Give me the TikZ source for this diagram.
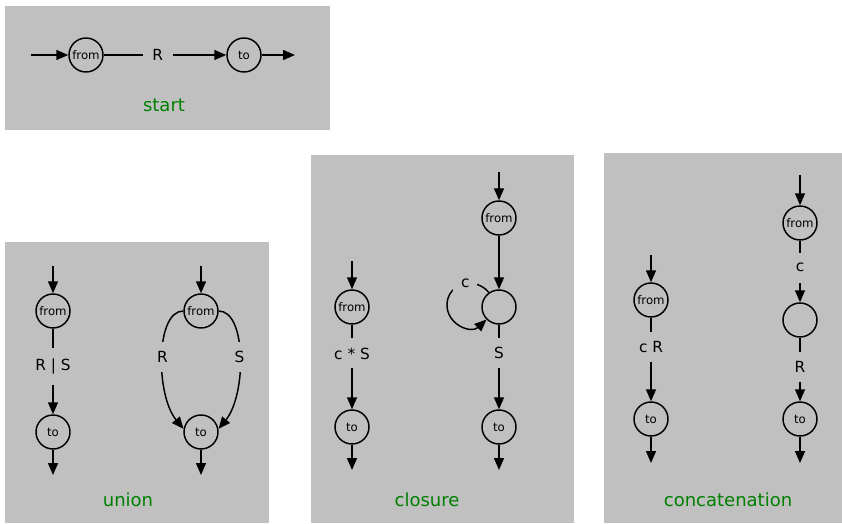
\documentclass[tikz,border=0pt]{standalone}
\usepackage{fontspec}
\setmainfont{DejaVu Sans}
\usetikzlibrary{arrows.meta}
\definecolor{panel}{RGB}{192,192,192}
\definecolor{ttlgreen}{RGB}{0,128,0}
\begin{document}
\begin{tikzpicture}[x=0.75pt,y=-0.75pt,
  state/.style={circle,draw,line width=1.1pt,minimum size=25.5pt,inner sep=0pt,font=\fontsize{8.8}{10}\selectfont},
  arr/.style={line width=1.1pt,-{Triangle[length=9pt,width=7.5pt]}},
  lbl/.style={fill=panel,inner sep=0pt,minimum width=22.5pt,minimum height=22.5pt,font=\fontsize{11.5}{13}\selectfont},
  ttl/.style={text=ttlgreen,font=\fontsize{13.5}{16}\selectfont}]
\useasboundingbox (0,0) rectangle (842,524);
% panels
\fill[panel] (5,6) rectangle (330,130);
\fill[panel] (5,242) rectangle (269,523);
\fill[panel] (311,155) rectangle (574,523);
\fill[panel] (604,153) rectangle (842,523);
% start
\coordinate (s0) at (31,55);
\node[state] (sf) at (86,55) {from};
\node[state] (st) at (244,55) {to};
\coordinate (s1) at (295,55);
\draw[arr] (s0) -- (sf);
\draw[arr] (sf) -- node[lbl,pos=0.44] (sR) {R} (st);
\draw[arr] (st) -- (s1);
\node[ttl] (tstart) at (164,105) {start};
% union left
\coordinate (u0) at (53,266);
\node[state] (uf) at (53,311) {from};
\node[state] (ut) at (53,432) {to};
\coordinate (u1) at (53,475);
\draw[arr] (u0) -- (uf);
\draw[arr] (uf) -- node[lbl,pos=0.44,minimum height=28pt] (uRS) {R | S} (ut);
\draw[arr] (ut) -- (u1);
% union right
\coordinate (v0) at (201,266);
\node[state] (vf) at (201,311) {from};
\node[state] (vt) at (201,432) {to};
\coordinate (v1) at (201,475);
\draw[arr] (v0) -- (vf);
\draw[arr] (vf.west) .. controls +(-28,0) and +(-28,-34) .. node[lbl,pos=0.5] (vR) {R} (vt.170);
\draw[arr] (vf.east) .. controls +(28,0) and +(28,-34) .. node[lbl,pos=0.5] (vS) {S} (vt.10);
\draw[arr] (vt) -- (v1);
\node[ttl] (tunion) at (128,500) {union};
% closure left
\coordinate (c0) at (352,261);
\node[state] (cf) at (352,307) {from};
\node[state] (ct) at (352,427) {to};
\coordinate (c1) at (352,470);
\draw[arr] (c0) -- (cf);
\draw[arr] (cf) -- node[lbl,pos=0.34] (ccS) {c * S} (ct);
\draw[arr] (ct) -- (c1);
% closure right
\coordinate (d0) at (499,172);
\node[state] (df) at (499,218) {from};
\node[state] (dm) at (499,307) {};
\node[state] (dt) at (499,427) {to};
\coordinate (d1) at (499,470);
\coordinate (dl) at (447,305);
\draw[arr] (d0) -- (df);
\draw[arr] (df) -- (dm);
\draw[arr] (dm.125) .. controls +(-14,-17) and +(0,-21.5) .. node[lbl,pos=0.45,minimum width=18pt,minimum height=16pt] (dc) {c} (dl)
  .. controls +(0,19.6) and +(-15.5,14.5) .. (dm.225);
\draw[arr] (dm) -- node[lbl,pos=0.33] (dS) {S} (dt);
\draw[arr] (dt) -- (d1);
\node[ttl] (tclosure) at (427,500) {closure};
% concatenation left
\coordinate (e0) at (651,255);
\node[state] (ef) at (651,300) {from};
\node[state] (et) at (651,419) {to};
\coordinate (e1) at (651,463);
\draw[arr] (e0) -- (ef);
\draw[arr] (ef) -- node[lbl,pos=0.35] (ecR) {c R} (et);
\draw[arr] (et) -- (e1);
% concatenation right
\coordinate (g0) at (800,175);
\node[state] (gf) at (800,223) {from};
\node[state] (gm) at (800,320) {};
\node[state] (gt) at (800,419) {to};
\coordinate (g1) at (800,463);
\draw[arr] (g0) -- (gf);
\draw[arr] (gf) -- node[lbl,pos=0.44] (gc) {c} (gm);
\draw[arr] (gm) -- node[lbl,pos=0.46] (gR) {R} (gt);
\draw[arr] (gt) -- (g1);
\node[ttl] (tconcat) at (728,500) {concatenation};
\end{tikzpicture}
\end{document}
